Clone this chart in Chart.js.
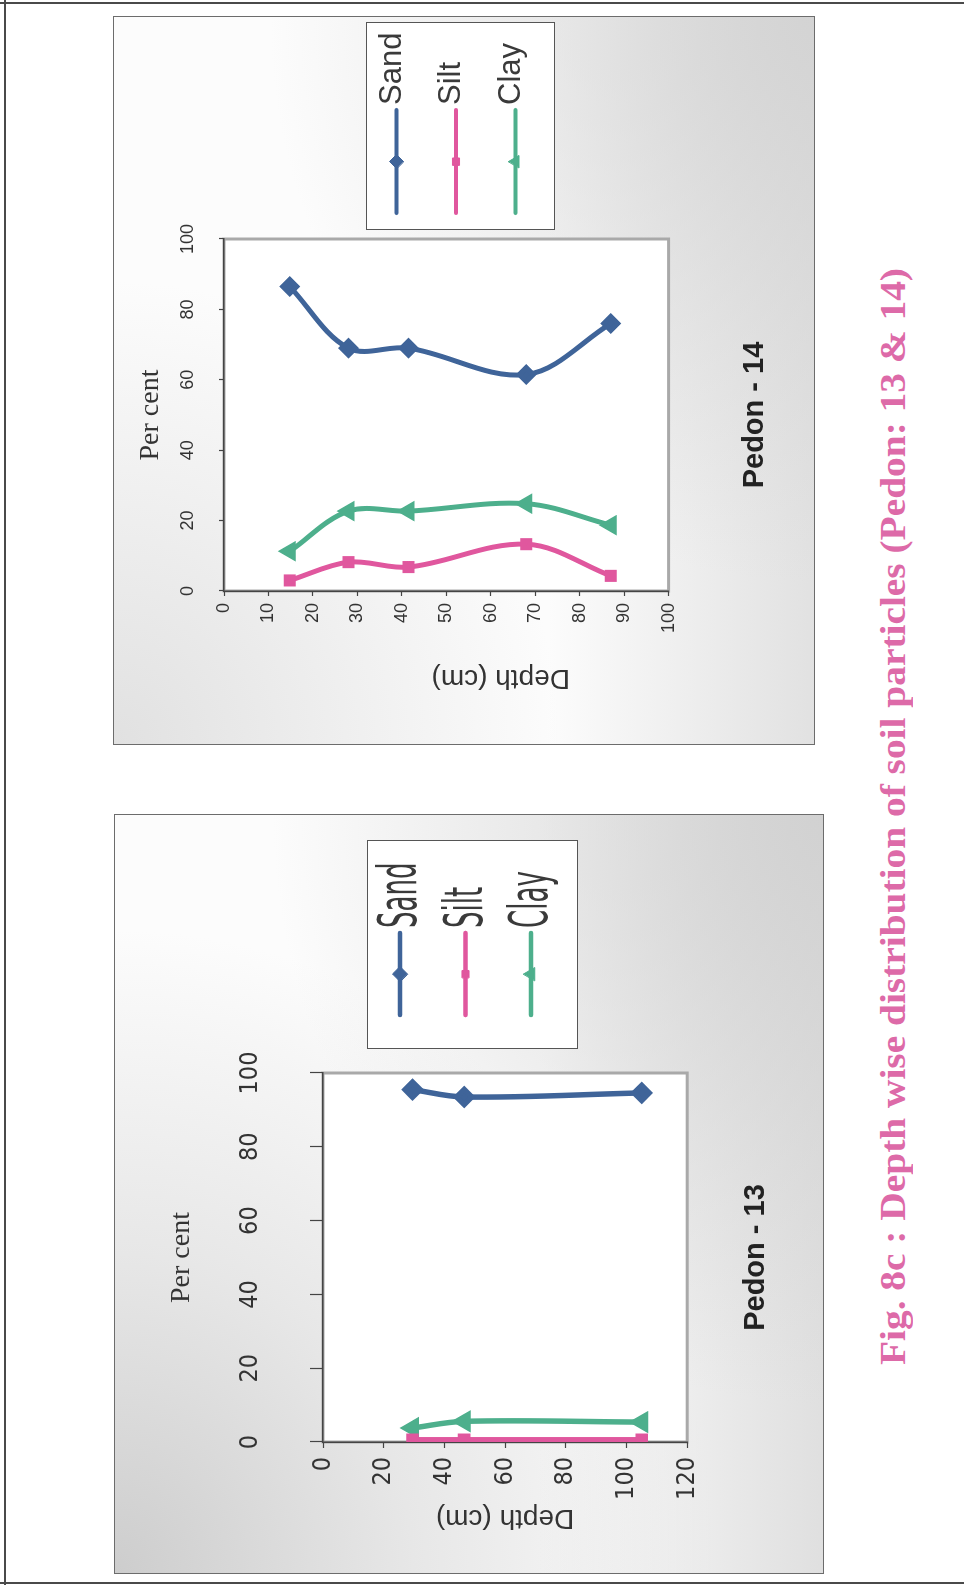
<!DOCTYPE html>
<html>
<head>
<meta charset="utf-8">
<title>Fig. 8c : Depth wise distribution of soil particles</title>
<script src="https://cdn.jsdelivr.net/npm/chart.js@4.4.1/dist/chart.umd.min.js"></script>
<style>
    html, body { margin: 0; padding: 0; background: #fff; }
    body { width: 964px; height: 1585px; overflow: hidden; position: relative; }
    /* the scanned page lies on its side: build it upright, then turn it */
    #page {
        position: absolute; left: 0; top: 0;
        width: 1585px; height: 964px;
        transform-origin: 0 0;
        transform: translateY(1585px) rotate(-90deg);
        background: #fff;
    }
    .rule { position: absolute; background: #4a4a4a; }
    .panel { position: absolute; border: 1px solid #6c6c6c; }
    .panel canvas { display: block; }
    #panel13 {
        left: 11px; top: 114px; width: 758px; height: 708px;
        background:
            radial-gradient(ellipse at 100% 100%, rgba(208,208,208,0.9) 0%, rgba(255,255,255,0) 55%),
            linear-gradient(to bottom, rgba(255,255,255,0) 60%, rgba(222,222,222,0.95) 100%),
            radial-gradient(ellipse at 0% 0%, rgba(205,205,205,1) 0%, rgba(226,226,226,0.8) 30%, rgba(255,255,255,0) 60%),
            #fcfcfc;
    }
    #panel14 {
        left: 840px; top: 113px; width: 727px; height: 700px;
        background:
            radial-gradient(ellipse at 100% 100%, rgba(210,210,210,0.9) 0%, rgba(255,255,255,0) 55%),
            linear-gradient(to bottom, rgba(255,255,255,0) 62%, rgba(224,224,224,0.95) 100%),
            radial-gradient(ellipse at 0% 0%, rgba(222,222,222,0.9) 0%, rgba(255,255,255,0) 45%),
            #fcfcfc;
    }
    #caption {
        position: absolute; left: 220px; top: 875px;
        font: bold 36px "Liberation Serif", "Times New Roman", serif;
        line-height: 1; white-space: nowrap;
        color: #dd6aa8;
        transform-origin: 0 50%;
    }
</style>
</head>
<body>
<div id="page">
    <div class="rule" style="left:0; top:4px; width:1585px; height:2px;"></div>
    <div class="rule" style="left:1px; top:0; width:2px; height:964px;"></div>
    <div class="rule" style="left:1581px; top:0; width:2px; height:964px;"></div>

    <div class="panel" id="panel13"><canvas id="pedon13Chart" width="758" height="708"></canvas></div>
    <div class="panel" id="panel14"><canvas id="pedon14Chart" width="727" height="700"></canvas></div>

    <div id="caption">Fig. 8c : Depth wise distribution of soil particles (Pedon: 13 &amp; 14)</div>
</div>

<script>
// Data (depth in cm, particles in per cent)
const seriesNames = ['Sand', 'Silt', 'Clay'];
const seriesColors = ['#3f6499', '#e0579e', '#4daf8c'];
const seriesMarkers = ['rectRot', 'rect', 'triangle'];

const percentTicks = [0, 20, 40, 60, 80, 100];

const pedon13DepthTicks = [0, 20, 40, 60, 80, 100, 120];
const pedon13Depth = [29.5, 46.5, 105];
const pedon13Sand = [95.5, 93.5, 94.6];
const pedon13Silt = [0.6, 0.6, 0.6];
const pedon13Clay = [3.8, 5.6, 5.4];

const pedon14DepthTicks = [0, 10, 20, 30, 40, 50, 60, 70, 80, 90, 100];
const pedon14Depth = [14.8, 28, 41.5, 68, 87];
const pedon14Sand = [86.5, 69, 69, 61.5, 76];
const pedon14Silt = [3, 8.2, 6.8, 13.3, 4.3];
const pedon14Clay = [11.3, 22.7, 22.7, 24.8, 18.7];

const SANS = '"Liberation Sans", Arial, sans-serif';
const NARROW = '"Liberation Sans Narrow", "DejaVu Sans Condensed", "Liberation Sans", sans-serif';
const SERIF = '"Liberation Serif", "Times New Roman", serif';

// white plot area with the grey Excel frame round it
const plotFrame = {
    id: 'plotFrame',
    beforeDraw(chart) {
        const { ctx, chartArea: a } = chart;
        ctx.save();
        ctx.fillStyle = '#fff';
        ctx.fillRect(a.left, a.top, a.right - a.left, a.bottom - a.top);
        ctx.strokeStyle = '#a9a9a9';
        ctx.lineWidth = 3;
        ctx.strokeRect(a.left, a.top, a.right - a.left, a.bottom - a.top);
        ctx.restore();
    }
};

// boxed legend with a line-and-marker sample for each series
const lineLegend = {
    id: 'lineLegend',
    afterDraw(chart, args, opts) {
        const { ctx } = chart;
        const b = opts.box;
        ctx.save();
        ctx.fillStyle = '#fff';
        ctx.fillRect(b.x, b.y, b.w, b.h);
        ctx.strokeStyle = '#555';
        ctx.lineWidth = 1;
        ctx.strokeRect(b.x + 0.5, b.y + 0.5, b.w, b.h);
        chart.data.datasets.forEach((ds, i) => {
            const y = b.y + opts.firstRow + i * opts.rowGap;
            const x0 = b.x + opts.lineX;
            ctx.strokeStyle = ds.borderColor;
            ctx.lineWidth = opts.lineWidth;
            ctx.lineCap = 'round';
            ctx.beginPath();
            ctx.moveTo(x0, y);
            ctx.lineTo(x0 + opts.lineLen, y);
            ctx.stroke();

            ctx.fillStyle = ds.pointBackgroundColor;
            ctx.strokeStyle = ds.pointBorderColor;
            ctx.lineWidth = 1;
            Chart.helpers.drawPoint(ctx, {
                pointStyle: ds.pointStyle, radius: ds.pointRadius, rotation: 0, borderWidth: 1
            }, x0 + opts.lineLen / 2, y);

            ctx.save();
            ctx.translate(b.x + opts.textX, y + opts.textDy);
            ctx.scale(1, opts.stretch);
            ctx.font = opts.font;
            ctx.fillStyle = '#3a3a3a';
            ctx.textBaseline = 'alphabetic';
            ctx.fillText(ds.label, 0, 0);
            ctx.restore();
        });
        ctx.restore();
    }
};

function toPoints(depths, values) {
    return depths.map((d, i) => ({ x: values[i], y: d }));
}

function buildPedonChart(canvasId, depths, values, depthTicks, cfg) {
    const canvas = document.getElementById(canvasId);
    if (!canvas) return;

    return new Chart(canvas, {
        type: 'scatter',
        data: {
            datasets: seriesNames.map((name, i) => ({
                label: name,
                data: toPoints(depths, values[i]),
                showLine: true,
                tension: 0.35,
                borderColor: seriesColors[i],
                backgroundColor: seriesColors[i],
                pointBackgroundColor: seriesColors[i],
                pointBorderColor: seriesColors[i],
                pointStyle: seriesMarkers[i],
                pointRadius: cfg.pointRadius[i],
                borderWidth: cfg.lineWidth
            }))
        },
        options: {
            responsive: false,
            animation: false,
            devicePixelRatio: 1,
            layout: { padding: cfg.padding },
            plugins: {
                legend: { display: false },
                tooltip: { enabled: false },
                title: {
                    display: true,
                    text: cfg.title,
                    position: 'bottom',
                    fullSize: false,
                    color: '#222',
                    font: { family: SANS, size: 29, weight: 'bold' },
                    padding: { top: cfg.titleGap, bottom: 0 }
                },
                lineLegend: cfg.legend
            },
            scales: {
                x: {
                    type: 'linear',
                    position: 'top',
                    min: percentTicks[0],
                    max: percentTicks[percentTicks.length - 1],
                    afterBuildTicks: s => { s.ticks = percentTicks.map(v => ({ value: v })); },
                    afterFit: s => { s.height = cfg.xHeight; },
                    ticks: { font: cfg.tickFont, color: '#333', padding: cfg.xTickPad, maxRotation: 0, autoSkip: false },
                    grid: { drawOnChartArea: false, tickLength: cfg.xTickLen, color: '#444', tickWidth: 1.2 },
                    border: { color: '#444', width: 1.5 },
                    title: {
                        display: true, text: 'Per cent', color: '#333',
                        font: { family: SERIF, size: 28 },
                        padding: { top: cfg.xTitlePad, bottom: 0 }
                    }
                },
                y: {
                    type: 'linear',
                    position: 'left',
                    reverse: true,
                    min: depthTicks[0],
                    max: depthTicks[depthTicks.length - 1],
                    afterBuildTicks: s => { s.ticks = depthTicks.map(v => ({ value: v })); },
                    afterFit: s => { s.width = cfg.yWidth; },
                    ticks: { font: cfg.tickFont, color: '#333', padding: cfg.yTickPad, autoSkip: false },
                    grid: { drawOnChartArea: false, tickLength: cfg.yTickLen, color: '#444', tickWidth: 1.2 },
                    border: { color: '#444', width: 1.5 },
                    title: {
                        display: true, text: cfg.depthTitle, color: '#333',
                        font: { family: SANS, size: 28 },
                        padding: { top: cfg.yTitlePad, bottom: 0 }
                    }
                }
            }
        },
        plugins: [plotFrame, lineLegend]
    });
}

document.addEventListener('DOMContentLoaded', () => {
    if (typeof Chart === 'undefined') {
        console.error('Chart.js is not loaded');
        return;
    }

    // Pedon - 13
    buildPedonChart('pedon13Chart', pedon13Depth, [pedon13Sand, pedon13Silt, pedon13Clay], pedon13DepthTicks, {
        title: 'Pedon - 13',
        depthTitle: 'Depth (cm)',
        padding: { left: 10, top: 10, right: 258, bottom: 50 },
        xHeight: 198, yWidth: 121,
        tickFont: { family: NARROW, size: 25 },
        xTickPad: 45, xTickLen: 13,
        yTickPad: 9, yTickLen: 6,
        xTitlePad: 40, yTitlePad: 28,
        titleGap: 51,
        lineWidth: 5.5,
        pointRadius: [7.5, 5, 7.5],
        legend: {
            box: { x: 524, y: 252, w: 208, h: 210 },
            firstRow: 33, rowGap: 65.5,
            lineX: 34, lineLen: 82, lineWidth: 4.5,
            textX: 121, textDy: 16,
            font: '29px ' + NARROW, stretch: 1.85
        }
    });

    // Pedon - 14
    buildPedonChart('pedon14Chart', pedon14Depth, [pedon14Sand, pedon14Silt, pedon14Clay], pedon14DepthTicks, {
        title: 'Pedon - 14',
        depthTitle: 'Depth (cm)' + ' '.repeat(14),
        padding: { left: 10, top: 10, right: 222, bottom: 42 },
        xHeight: 100, yWidth: 143,
        tickFont: { family: SANS, size: 18 },
        xTickPad: 20, xTickLen: 5,
        yTickPad: 7, yTickLen: 5,
        xTitlePad: 10, yTitlePad: 39,
        titleGap: 68.6,
        lineWidth: 5,
        pointRadius: [7, 5, 7],
        legend: {
            box: { x: 514, y: 252, w: 207, h: 188 },
            firstRow: 30.5, rowGap: 59.5,
            lineX: 17, lineLen: 103, lineWidth: 4,
            textX: 125, textDy: 4,
            font: '31px ' + SANS, stretch: 1
        }
    });

    // stretch the caption to the length it has on the page
    const caption = document.getElementById('caption');
    caption.style.transform = 'scaleX(' + (1097 / caption.offsetWidth) + ')';
});
</script>
</body>
</html>
